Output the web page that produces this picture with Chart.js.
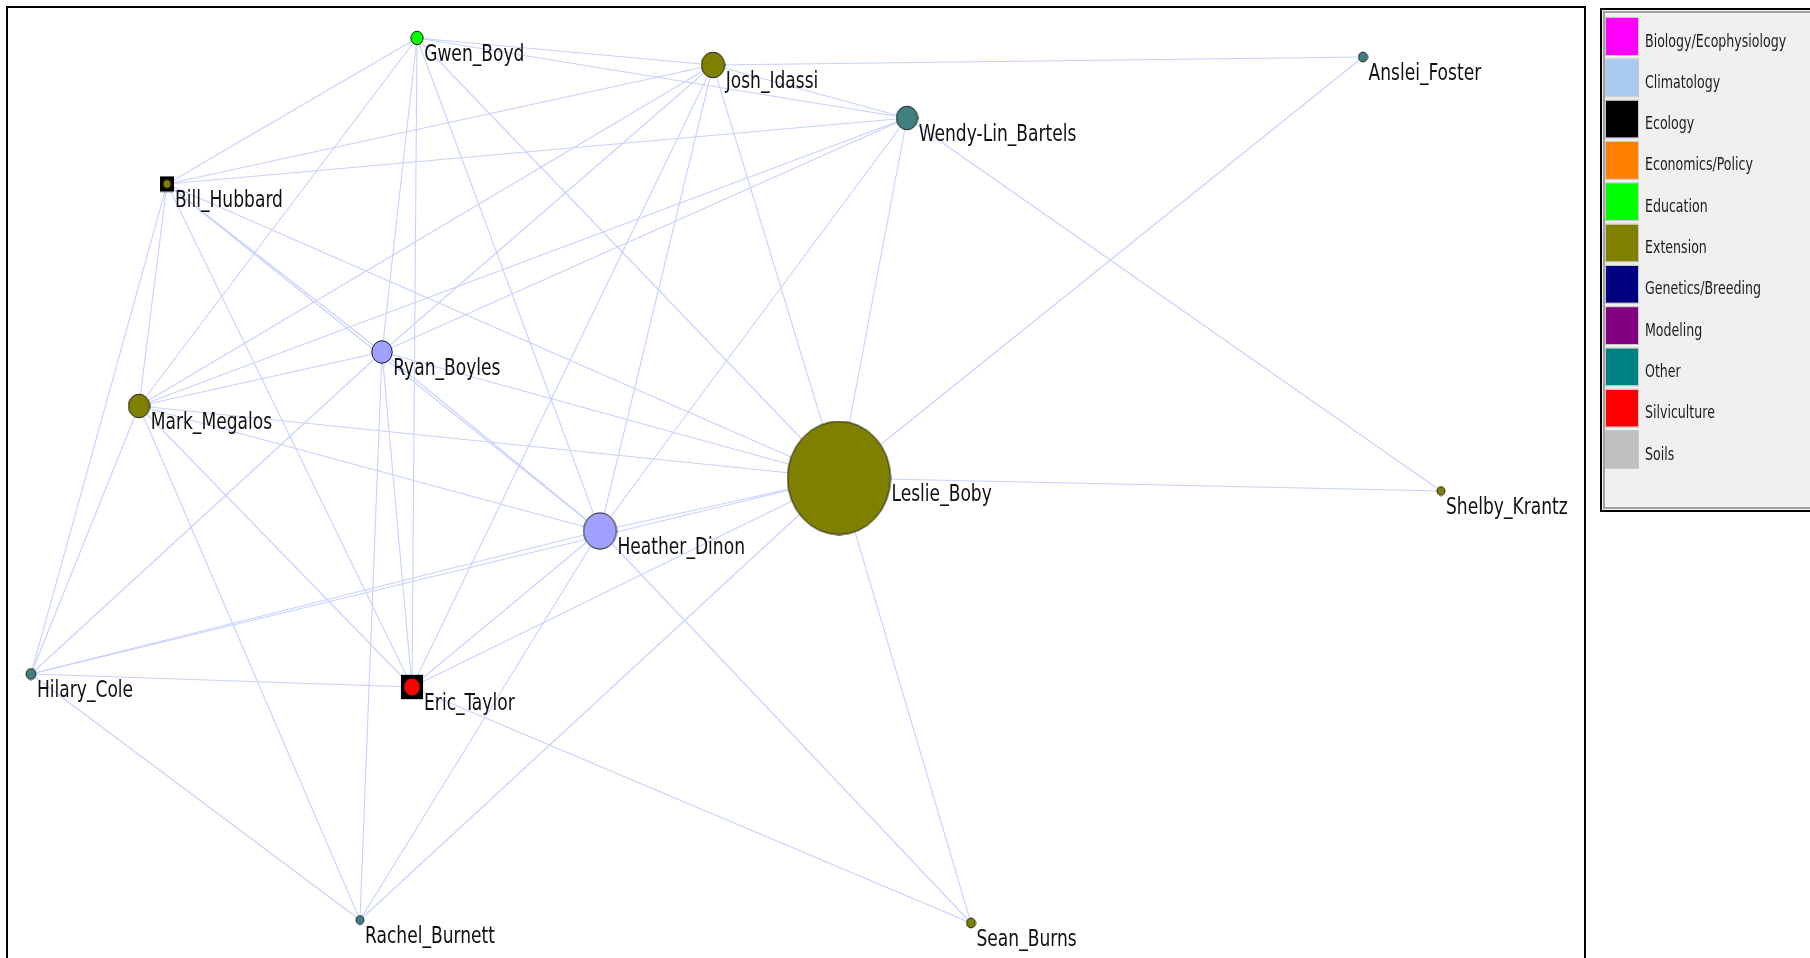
<!DOCTYPE html>
<html>
<head>
<meta charset="utf-8">
<script src="https://cdn.jsdelivr.net/npm/chart.js@4.4.0/dist/chart.umd.min.js"></script>
<style>
body{margin:0;background:#fff;}
#wrap{width:1810px;height:958px;}
</style>
</head>
<body>
<div id="wrap"><canvas id="net" width="1810" height="958"></canvas></div>
<script>

// nodes of the network
const nodeNames = ["Gwen_Boyd","Josh_Idassi","Anslei_Foster","Wendy-Lin_Bartels","Bill_Hubbard","Ryan_Boyles","Mark_Megalos","Leslie_Boby","Shelby_Krantz","Heather_Dinon","Hilary_Cole","Eric_Taylor","Rachel_Burnett","Sean_Burns"];
const layoutX = [409,705,1355,899,159,374,131,831,1433,592,23,404,352,963];
const layoutY = [30,57,49,110,176,344,398,470,483,523,666,679,912,915];
const centrality = [0.055,0.17,0.02,0.15,0.01,0.14,0.15,1.0,0.01,0.27,0.03,0.095,0.01,0.02];
const nodeField = ["Education","Extension","Other","Other","Extension","Unassigned","Extension","Extension","Extension","Unassigned","Other","Silviculture","Other","Extension"];
const secondField = ["","","","","Ecology","","","","","","","Ecology","",""];

// edges
const links = [
["Gwen_Boyd","Josh_Idassi"],["Gwen_Boyd","Wendy-Lin_Bartels"],["Gwen_Boyd","Bill_Hubbard"],["Gwen_Boyd","Mark_Megalos"],["Gwen_Boyd","Ryan_Boyles"],["Gwen_Boyd","Eric_Taylor"],["Gwen_Boyd","Heather_Dinon"],["Gwen_Boyd","Leslie_Boby"],
["Josh_Idassi","Anslei_Foster"],["Josh_Idassi","Wendy-Lin_Bartels"],["Josh_Idassi","Bill_Hubbard"],["Josh_Idassi","Mark_Megalos"],["Josh_Idassi","Ryan_Boyles"],["Josh_Idassi","Heather_Dinon"],["Josh_Idassi","Eric_Taylor"],["Josh_Idassi","Leslie_Boby"],
["Wendy-Lin_Bartels","Bill_Hubbard"],["Wendy-Lin_Bartels","Mark_Megalos"],["Wendy-Lin_Bartels","Ryan_Boyles"],["Wendy-Lin_Bartels","Heather_Dinon"],["Wendy-Lin_Bartels","Leslie_Boby"],["Wendy-Lin_Bartels","Shelby_Krantz"],
["Anslei_Foster","Leslie_Boby"],
["Bill_Hubbard","Hilary_Cole"],["Bill_Hubbard","Mark_Megalos"],["Bill_Hubbard","Eric_Taylor"],["Bill_Hubbard","Ryan_Boyles"],["Bill_Hubbard","Heather_Dinon"],["Bill_Hubbard","Leslie_Boby"],
["Ryan_Boyles","Mark_Megalos"],["Ryan_Boyles","Leslie_Boby"],["Ryan_Boyles","Heather_Dinon"],["Ryan_Boyles","Eric_Taylor"],["Ryan_Boyles","Rachel_Burnett"],["Ryan_Boyles","Hilary_Cole"],
["Mark_Megalos","Leslie_Boby"],["Mark_Megalos","Heather_Dinon"],["Mark_Megalos","Hilary_Cole"],["Mark_Megalos","Rachel_Burnett"],["Mark_Megalos","Eric_Taylor"],
["Leslie_Boby","Shelby_Krantz"],["Leslie_Boby","Heather_Dinon"],["Leslie_Boby","Hilary_Cole"],["Leslie_Boby","Eric_Taylor"],["Leslie_Boby","Rachel_Burnett"],["Leslie_Boby","Sean_Burns"],
["Heather_Dinon","Hilary_Cole"],["Heather_Dinon","Eric_Taylor"],["Heather_Dinon","Rachel_Burnett"],["Heather_Dinon","Sean_Burns"],
["Hilary_Cole","Eric_Taylor"],["Hilary_Cole","Rachel_Burnett"],
["Eric_Taylor","Sean_Burns"]
];

// legend
const legendFields = ["Biology/Ecophysiology","Climatology","Ecology","Economics/Policy","Education","Extension","Genetics/Breeding","Modeling","Other","Silviculture","Soils"];

const fieldColors = {
"Biology/Ecophysiology":"#ff00ff","Climatology":"#a6caf0","Ecology":"#000000","Economics/Policy":"#ff8000",
"Education":"#00ff00","Extension":"#808000","Genetics/Breeding":"#000080","Modeling":"#800080",
"Other":"#008080","Silviculture":"#ff0000","Soils":"#c0c0c0","Unassigned":"#a0a0ff"
};
const nodeFill = {"Other":"#408080"};
const stretchY = 1.1;
const labelFont = '"DejaVu Sans Condensed", "DejaVu Sans", sans-serif';

function radiusOf(i){
return 3.5 + 48*centrality[i];
}

function halfWidth(i){
return secondField[i] ? radiusOf(i)+3 : radiusOf(i);
}

function nodeImage(i){
const r = radiusOf(i);
const sq = secondField[i] ? r+3 : 0;
const w = Math.round(2*Math.max(r,sq))+2;
const h = Math.round(2*Math.max(r,sq)*stretchY)+2;
const c = document.createElement("canvas");
c.width = w; c.height = h;
const g = c.getContext("2d");
if(sq){
g.fillStyle = fieldColors[secondField[i]];
g.fillRect(w/2-sq, h/2-sq*stretchY, 2*sq, 2*sq*stretchY);
}
g.beginPath();
g.ellipse(w/2, h/2, r, r*stretchY, 0, 0, Math.PI*2);
g.fillStyle = nodeFill[nodeField[i]] || fieldColors[nodeField[i]];
g.fill();
g.lineWidth = 1;
g.strokeStyle = "#1c1c1c";
g.stroke();
return c;
}

const edgeSets = links.map(function(l){
const a = nodeNames.indexOf(l[0]), b = nodeNames.indexOf(l[1]);
return {
data:[{x:layoutX[a],y:layoutY[a]},{x:layoutX[b],y:layoutY[b]}],
showLine:true,
borderColor:"#c8d1ff",
borderWidth:1.1,
pointRadius:0,
order:1
};
});

const nodeSet = {
data: nodeNames.map((n,i)=>({x:layoutX[i],y:layoutY[i]})),
pointStyle: nodeNames.map((n,i)=>nodeImage(i)),
pointRadius: nodeNames.map((n,i)=>radiusOf(i)),
order:0
};

const framePlugin = {
id:"frame",
beforeDraw(chart){
const ctx = chart.ctx;
ctx.save();
ctx.fillStyle = "#fff";
ctx.fillRect(0,0,chart.width,chart.height);
ctx.restore();
},
afterDraw(chart){
const ctx = chart.ctx, a = chart.chartArea;
ctx.save();
ctx.strokeStyle = "#000";
ctx.lineWidth = 2;
ctx.strokeRect(a.left-1, a.top-1, a.right-a.left+2, a.bottom-a.top+20);
ctx.restore();
}
};

const labelPlugin = {
id:"labels",
afterDatasetsDraw(chart){
const ctx = chart.ctx;
const meta = chart.getDatasetMeta(0);
ctx.save();
ctx.fillStyle = "#111";
ctx.font = "19px " + labelFont;
ctx.textBaseline = "alphabetic";
meta.data.forEach(function(pt,i){
ctx.save();
ctx.translate(pt.x + halfWidth(i) + 1, pt.y + 23);
ctx.scale(1,1.17);
ctx.fillText(nodeNames[i],0,0);
ctx.restore();
});
ctx.restore();
}
};

const legendPlugin = {
id:"fieldLegend",
afterDraw(chart){
const ctx = chart.ctx;
const left = 1600, top = 8;
ctx.save();
ctx.fillStyle = "#f0f0f0";
ctx.fillRect(left, top, 240, 504);
ctx.strokeStyle = "#000";
ctx.lineWidth = 2;
ctx.strokeRect(left+1, top+1, 240, 502);
ctx.strokeStyle = "#a0a0a0";
ctx.lineWidth = 2;
ctx.strokeRect(left+4, top+4, 240, 496);
legendFields.forEach(function(f,i){
const y = top + 10 + i*41.3;
ctx.fillStyle = fieldColors[f];
ctx.fillRect(left+6, y, 32, 37);
ctx.strokeStyle = "#c8c8c8";
ctx.lineWidth = 1;
ctx.strokeRect(left+5.5, y-0.5, 33, 38);
ctx.save();
ctx.fillStyle = "#1a1a22";
ctx.font = "14px " + labelFont;
ctx.translate(left+45, y+28.5);
ctx.scale(1,1.27);
ctx.fillText(f,0,0);
ctx.restore();
});
ctx.restore();
}
};

new Chart(document.getElementById("net"),{
type:"scatter",
data:{datasets:[nodeSet].concat(edgeSets)},
options:{
responsive:false,
animation:false,
layout:{autoPadding:false,padding:{left:8,top:8,right:226,bottom:0}},
scales:{
x:{type:"linear",min:0,max:1576,display:false},
y:{type:"linear",min:0,max:950,reverse:true,display:false}
},
plugins:{legend:{display:false},tooltip:{enabled:false}}
},
plugins:[framePlugin,labelPlugin,legendPlugin]
});

</script>
</body>
</html>
